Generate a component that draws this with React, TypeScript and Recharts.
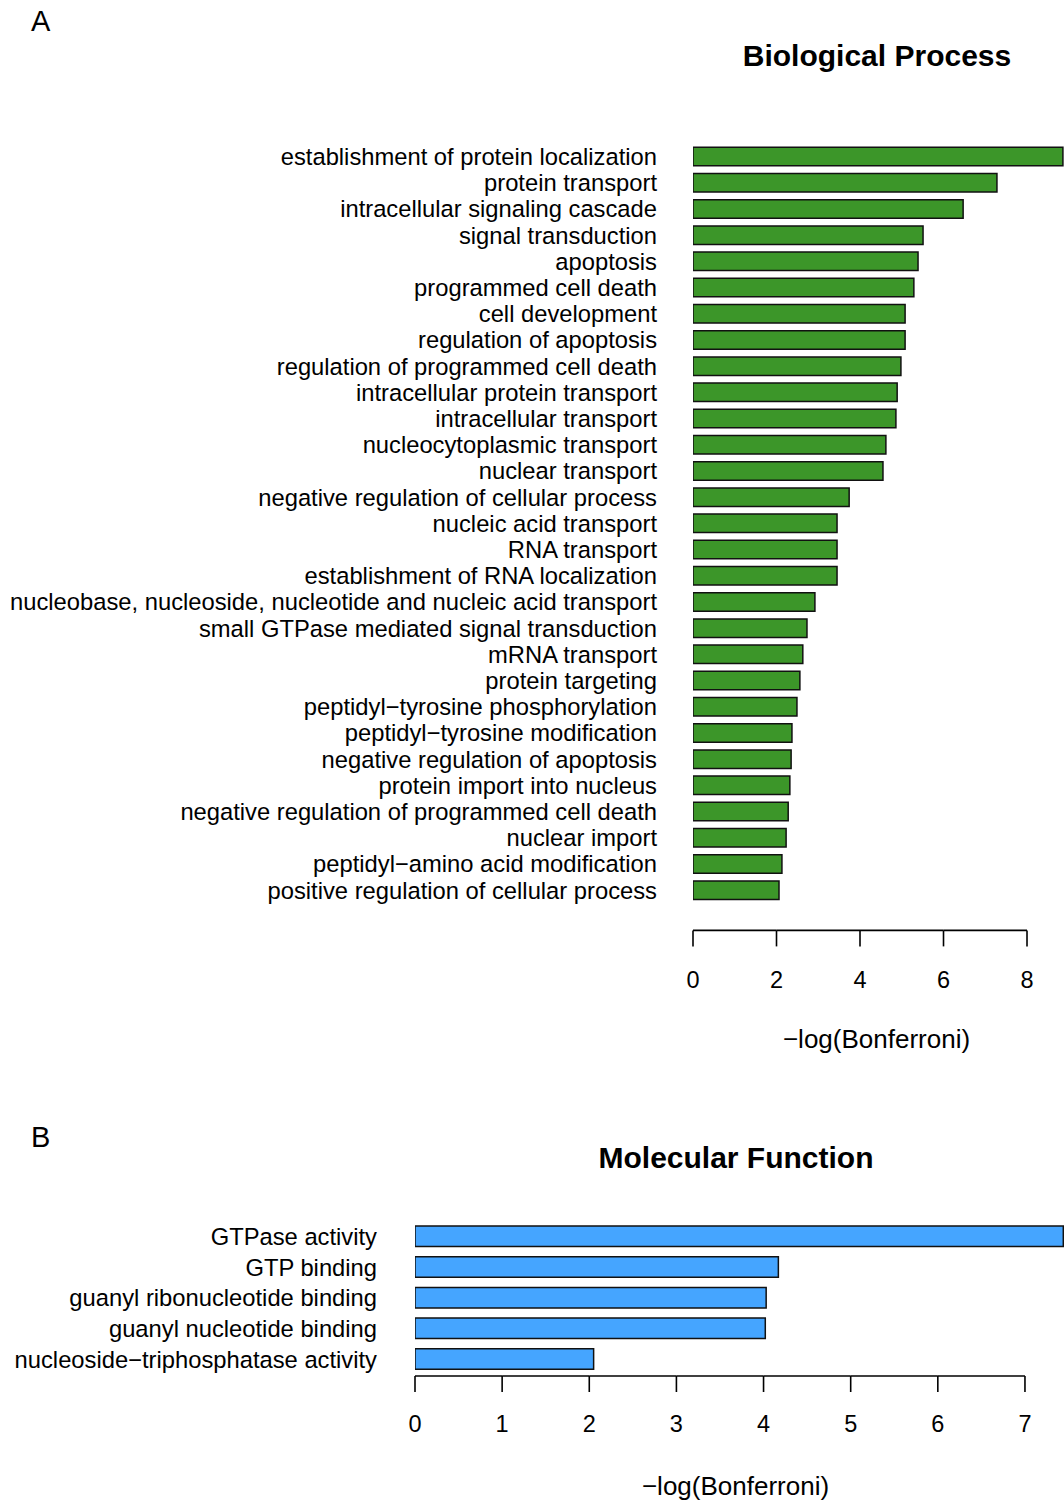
import { BarChart, Bar, XAxis, YAxis } from 'recharts';

// GO enrichment, -log(Bonferroni)
const BP_TERMS = [
  'establishment of protein localization',
  'protein transport',
  'intracellular signaling cascade',
  'signal transduction',
  'apoptosis',
  'programmed cell death',
  'cell development',
  'regulation of apoptosis',
  'regulation of programmed cell death',
  'intracellular protein transport',
  'intracellular transport',
  'nucleocytoplasmic transport',
  'nuclear transport',
  'negative regulation of cellular process',
  'nucleic acid transport',
  'RNA transport',
  'establishment of RNA localization',
  'nucleobase, nucleoside, nucleotide and nucleic acid transport',
  'small GTPase mediated signal transduction',
  'mRNA transport',
  'protein targeting',
  'peptidyl\u2212tyrosine phosphorylation',
  'peptidyl\u2212tyrosine modification',
  'negative regulation of apoptosis',
  'protein import into nucleus',
  'negative regulation of programmed cell death',
  'nuclear import',
  'peptidyl\u2212amino acid modification',
  'positive regulation of cellular process',
];
const BP_VALUES = [
  8.86, 7.28, 6.47, 5.51, 5.39, 5.29, 5.08, 5.08, 4.98, 4.89, 4.86, 4.62, 4.55, 3.74,
  3.45, 3.45, 3.45, 2.92, 2.73, 2.63, 2.56, 2.49, 2.37, 2.35, 2.32, 2.28, 2.23, 2.13, 2.06,
];
const BP_TICKS = [0, 2, 4, 6, 8];

const MF_TERMS = [
  'GTPase activity',
  'GTP binding',
  'guanyl ribonucleotide binding',
  'guanyl nucleotide binding',
  'nucleoside\u2212triphosphatase activity',
];
const MF_VALUES = [7.44, 4.17, 4.03, 4.02, 2.05];
const MF_TICKS = [0, 1, 2, 3, 4, 5, 6, 7];

const bpData = BP_TERMS.map((term, i) => ({ term, value: BP_VALUES[i] }));
const mfData = MF_TERMS.map((term, i) => ({ term, value: MF_VALUES[i] }));

const FONT = '"Liberation Sans", Arial, Helvetica, sans-serif';
const W = 1064;

// panel geometry
const A_LEFT = 693;
const A_DOMAIN = 8.886;
const B_LEFT = 415;
const B_DOMAIN = 7.448;

function TermTick(props: any) {
  const { x, y, payload } = props;
  return (
    <text x={x} y={y} dy="0.36em" textAnchor="end" fontSize={23.75} fontFamily={FONT} fill="#000">
      {payload.value}
    </text>
  );
}

// R style axis: line spans first..last tick, ticks point down, labels below
function makeValueTick(ticks: number[], unitPx: number, lineDy: number, tickLen: number, labelDy: number) {
  return function ValueTick(props: any) {
    const { x, y, payload, index } = props;
    const ly = y + lineDy;
    const prev = index > 0 ? ticks[index - 1] : payload.value;
    return (
      <g>
        {index > 0 && (
          <line x1={x - (payload.value - prev) * unitPx} x2={x} y1={ly} y2={ly} stroke="#000" strokeWidth={1.6} />
        )}
        <line x1={x} x2={x} y1={ly} y2={ly + tickLen} stroke="#000" strokeWidth={1.6} />
        <text x={x} y={y + labelDy} textAnchor="middle" fontSize={23.5} fontFamily={FONT} fill="#000">
          {payload.value}
        </text>
      </g>
    );
  };
}

const BpTick = makeValueTick(BP_TICKS, (W - A_LEFT) / A_DOMAIN, 27.3, 16, 84.5);
const MfTick = makeValueTick(MF_TICKS, (W - B_LEFT) / B_DOMAIN, 1.5, 16, 57);

const letterStyle = {
  position: 'absolute' as const,
  left: 31,
  fontFamily: FONT,
  fontSize: 29,
  lineHeight: '29px',
  color: '#000',
};

const titleStyle = {
  position: 'absolute' as const,
  fontFamily: FONT,
  fontSize: 30,
  fontWeight: 'bold' as const,
  lineHeight: '30px',
  color: '#000',
  whiteSpace: 'nowrap' as const,
  transform: 'translateX(-50%)',
};

const axisLabel = (offset: number, dx: number) => ({
  value: '\u2212log(Bonferroni)',
  position: 'insideBottom' as const,
  offset,
  dx,
  fontSize: 26,
  fontFamily: FONT,
  fill: '#000',
});

export default function App() {
  return (
    <div style={{ position: 'absolute', left: 0, top: 0, width: W, height: 1503, background: '#fff', overflow: 'hidden' }}>
      <div style={{ ...letterStyle, top: 7 }}>A</div>
      <div style={{ ...titleStyle, left: 877, top: 41 }}>Biological Process</div>

      <div style={{ position: 'absolute', left: 0, top: 0 }}>
        <BarChart
          width={W}
          height={1070}
          data={bpData}
          layout="vertical"
          margin={{ top: 143.3, right: 0, bottom: 0, left: 0 }}
        >
          <XAxis
            type="number"
            domain={[0, A_DOMAIN]}
            allowDataOverflow
            ticks={BP_TICKS}
            interval={0}
            height={166.9}
            axisLine={false}
            tickLine={false}
            tickSize={0}
            tickMargin={0}
            tick={<BpTick />}
            label={axisLabel(22, -2)}
          />
          <YAxis
            type="category"
            dataKey="term"
            width={A_LEFT}
            interval={0}
            axisLine={false}
            tickLine={false}
            tickSize={0}
            tickMargin={36}
            tick={<TermTick />}
          />
          <Bar dataKey="value" fill="#3C9629" stroke="#111" strokeWidth={1.5} barSize={18.5} isAnimationActive={false} />
        </BarChart>
      </div>

      <div style={{ ...letterStyle, top: 1123 }}>B</div>
      <div style={{ ...titleStyle, left: 736, top: 1143 }}>Molecular Function</div>

      <div style={{ position: 'absolute', left: 0, top: 1100 }}>
        <BarChart
          width={W}
          height={403}
          data={mfData}
          layout="vertical"
          margin={{ top: 121, right: 0, bottom: 0, left: 0 }}
        >
          <XAxis
            type="number"
            domain={[0, B_DOMAIN]}
            allowDataOverflow
            ticks={MF_TICKS}
            interval={0}
            height={128.5}
            axisLine={false}
            tickLine={false}
            tickSize={0}
            tickMargin={0}
            tick={<MfTick />}
            label={axisLabel(8, -4)}
          />
          <YAxis
            type="category"
            dataKey="term"
            width={B_LEFT}
            interval={0}
            axisLine={false}
            tickLine={false}
            tickSize={0}
            tickMargin={38}
            tick={<TermTick />}
          />
          <Bar dataKey="value" fill="#45A5FF" stroke="#111" strokeWidth={1.5} barSize={20.5} isAnimationActive={false} />
        </BarChart>
      </div>
    </div>
  );
}
